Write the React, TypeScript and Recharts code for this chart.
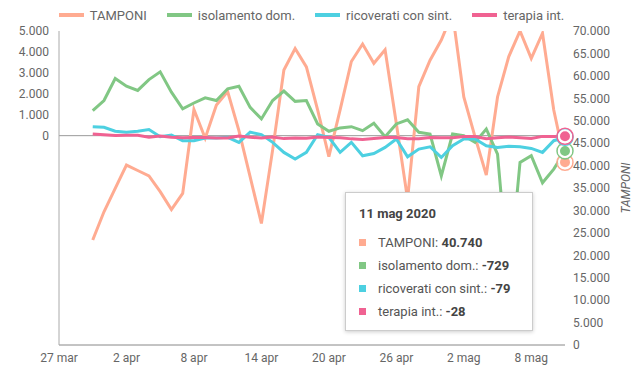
import { LineChart, Line, XAxis, YAxis, Tooltip, Legend, ReferenceLine } from "recharts";

// 27 mar .. 11 mag 2020
const days = [
  "27 mar", "28 mar", "29 mar", "30 mar", "31 mar",
  "1 apr", "2 apr", "3 apr", "4 apr", "5 apr", "6 apr", "7 apr", "8 apr", "9 apr", "10 apr",
  "11 apr", "12 apr", "13 apr", "14 apr", "15 apr", "16 apr", "17 apr", "18 apr", "19 apr", "20 apr",
  "21 apr", "22 apr", "23 apr", "24 apr", "25 apr", "26 apr", "27 apr", "28 apr", "29 apr", "30 apr",
  "1 mag", "2 mag", "3 mag", "4 mag", "5 mag", "6 mag", "7 mag", "8 mag", "9 mag", "10 mag", "11 mag",
];

// series start on 30 mar
const firstDay = 3;

const tamponi = [
  23400, 29700, 34900, 40100, 38900, 37700, 34200, 30200, 33800, 52500,
  46100, 53500, 56500, 47800, 37500, 27100, 43500, 61300, 66100, 62000,
  52400, 42000, 52400, 63200, 67100, 62800, 65800, 49400, 32500, 57600,
  63500, 68000, 74000, 55300, 46400, 37900, 55300, 64300, 70000, 63900,
  69500, 52400, 40740,
];

const isolamento = [
  1200, 1680, 2730, 2360, 2160, 2680, 3050, 2080, 1280, 1560,
  1810, 1680, 2240, 2360, 1350, 800, 1680, 2130, 1640, 1680,
  560, 210, 370, 430, 240, 590, -50, 560, 760, 160,
  80, -1920, 80, 0, -320, 320, -880, -7000, -1280, -960,
  -2250, -1600, -729,
];

const ricoverati = [
  430, 400, 210, 160, 210, 290, -50, 30, -240, -240,
  -110, -110, -80, -320, 170, 50, -320, -800, -1120, -800,
  50, -80, -800, -320, -960, -850, -560, -160, -1010, -640,
  -530, -1040, -480, -160, -160, -480, -560, -510, -530, -610,
  -800, -240, -79,
];

const terapia = [
  75, 42, 12, 18, 15, -74, -17, -79, -99, -93,
  -88, -108, -116, -21, -75, -116, -65, -141, -107, -123,
  -60, -84, -102, -153, -186, -139, -93, -91, -146, -147,
  -84, -101, -99, -39, -38, -148, -94, -68, -94, -136,
  -34, -41, -28,
];

const leftTicks = [0, 1000, 2000, 3000, 4000, 5000];
const rightTicks = [0, 5000, 10000, 15000, 20000, 25000, 30000, 35000, 40000, 45000, 50000, 55000, 60000, 65000, 70000];

const series = [
  { key: "tamponi", name: "TAMPONI", color: "#ffab91", axis: "right", values: tamponi },
  { key: "isolamento", name: "isolamento dom.", color: "#81c784", axis: "left", values: isolamento },
  { key: "ricoverati", name: "ricoverati con sint.", color: "#4dd0e1", axis: "left", values: ricoverati },
  { key: "terapia", name: "terapia int.", color: "#f06292", axis: "left", values: terapia },
];

const rows = days.map((d, i) => {
  const row: any = { day: d };
  series.forEach((s) => {
    const v = s.values[i - firstDay];
    row[s.key] = v === undefined ? null : v;
  });
  return row;
});

const fmt = (v: number) => {
  const s = String(Math.abs(v)).replace(/\B(?=(\d{3})+(?!\d))/g, ".");
  return v < 0 ? "-" + s : s;
};

const font = "Roboto, sans-serif";

function LegendBox() {
  return (
    <div style={{ display: "flex", justifyContent: "center", alignItems: "center", height: 30, fontFamily: font, fontSize: 13, color: "#666" }}>
      {series.map((s) => (
        <div key={s.key} style={{ display: "flex", alignItems: "center", margin: "0 10px" }}>
          <span style={{ display: "inline-block", width: 25, height: 4, background: s.color, marginRight: 6 }} />
          <span>{s.name}</span>
        </div>
      ))}
    </div>
  );
}

function TipBox({ active, payload, label }: any) {
  if (!active || !payload || !payload.length) return null;
  return (
    <div style={{
      background: "#fff", border: "1px solid #ccc", boxShadow: "0 1px 4px rgba(0,0,0,0.2)",
      width: 188, height: 139, boxSizing: "border-box", padding: "13px 13px 0 13px",
      fontFamily: font, fontSize: 13, color: "#555",
    }}>
      <div style={{ fontWeight: 700, color: "#444", lineHeight: "16px", marginBottom: 9 }}>{label} 2020</div>
      {payload.map((p: any) => (
        <div key={p.dataKey} style={{ display: "flex", alignItems: "center", lineHeight: "23px", whiteSpace: "nowrap" }}>
          <span style={{ display: "inline-block", width: 7, height: 7, background: p.color, marginRight: 12 }} />
          <span>{p.name}: <b style={{ color: "#444" }}>{fmt(p.value)}</b></span>
        </div>
      ))}
    </div>
  );
}

const ringDot = (color: string) => (props: any) => {
  const { cx, cy } = props;
  if (cx == null || cy == null) return <g />;
  return (
    <g>
      <circle cx={cx} cy={cy} r={8} fill="none" stroke={color} strokeWidth={1.5} />
      <circle cx={cx} cy={cy} r={6} fill={color} stroke="#fff" strokeWidth={2} />
    </g>
  );
};

export default function App() {
  return (
    <div style={{ position: "absolute", left: 0, top: 0 }}>
      <LineChart width={639} height={380} data={rows} margin={{ top: 0, right: 0, left: 0, bottom: 0 }}>
        <Legend verticalAlign="top" height={31} content={<LegendBox />} wrapperStyle={{ left: 0, top: 0, width: 623 }} />
        <XAxis
          dataKey="day"
          interval={5}
          height={35}
          tickLine={false}
          axisLine={{ stroke: "#888" }}
          tick={{ fontSize: 12, fill: "#666", fontFamily: font }}
        />
        <YAxis
          yAxisId="left"
          width={59}
          domain={[-10000, 5000]}
          ticks={leftTicks}
          tickFormatter={fmt}
          tickLine={false}
          tickMargin={4}
          axisLine={{ stroke: "#aaa" }}
          tick={{ fontSize: 12, fill: "#666", fontFamily: font }}
        />
        <YAxis
          yAxisId="right"
          orientation="right"
          width={74}
          domain={[0, 70000]}
          allowDataOverflow
          ticks={rightTicks}
          tickFormatter={fmt}
          tickLine={false}
          axisLine={false}
          interval={0}
          tick={{ fontSize: 12, fill: "#666", fontFamily: font }}
          label={{ value: "TAMPONI", angle: -90, position: "insideRight", offset: 13, style: { fontSize: 12, fill: "#666", fontStyle: "italic", fontFamily: font, textAnchor: "middle" } }}
        />
        <ReferenceLine yAxisId="left" y={0} stroke="#999" />
        {series.map((s) => (
          <Line
            key={s.key}
            yAxisId={s.axis}
            type="linear"
            dataKey={s.key}
            name={s.name}
            stroke={s.color}
            strokeWidth={3}
            dot={false}
            activeDot={ringDot(s.color)}
            connectNulls={false}
            isAnimationActive={false}
          />
        ))}
        <Tooltip
          content={<TipBox />}
          defaultIndex={45}
          active={true}
          cursor={false}
          position={{ x: 345, y: 192 }}
          isAnimationActive={false}
        />
      </LineChart>
    </div>
  );
}
